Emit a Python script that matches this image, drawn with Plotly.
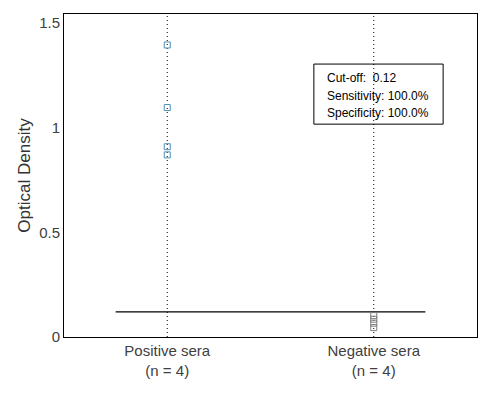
import plotly.graph_objects as go

categories = ["Positive sera<br>(n = 4)", "Negative sera<br>(n = 4)"]
cat_pos = [1, 2]
positive_values = [1.395, 1.096, 0.909, 0.87]
negative_values = [0.102, 0.085, 0.066, 0.045]
cutoff = 0.12
summary_lines = ["Cut-off:  0.12", "Sensitivity: 100.0%", "Specificity: 100.0%"]
y_ticks = [0, 0.5, 1, 1.5]
y_tick_text = ["0", "0.5", "1", "1.5"]

fig = go.Figure()

# vertical dotted guide lines at each category
for p in cat_pos:
    fig.add_trace(go.Scatter(x=[p, p], y=[0, 1.543], mode="lines",
                             line=dict(color="black", width=1, dash="1px,3px"),
                             showlegend=False, hoverinfo="skip"))

# cut-off line
fig.add_trace(go.Scatter(x=[0.75, 2.25], y=[cutoff, cutoff], mode="lines",
                         line=dict(color="black", width=1.2),
                         showlegend=False, hoverinfo="skip"))

fig.add_trace(go.Scatter(x=[cat_pos[0]] * len(positive_values), y=positive_values,
                         mode="markers",
                         marker=dict(symbol="square-open", size=6,
                                     color="#4f8fb5", line=dict(width=1)),
                         showlegend=False))
fig.add_trace(go.Scatter(x=[cat_pos[1]] * len(negative_values), y=negative_values,
                         mode="markers",
                         marker=dict(symbol="square-open", size=6,
                                     color="#808080", line=dict(width=1)),
                         showlegend=False))

# summary box
fig.add_shape(type="rect", xref="paper", yref="paper",
              x0=0.605, x1=0.918, y0=0.659, y1=0.845,
              line=dict(color="black", width=1), fillcolor="rgba(0,0,0,0)")
line_y = [0.802, 0.746, 0.692]
for txt, yy in zip(summary_lines, line_y):
    fig.add_annotation(xref="paper", yref="paper", x=0.632, y=yy,
                       xanchor="left", yanchor="middle", showarrow=False,
                       text=txt, align="left",
                       font=dict(family="Liberation Sans, Arial", size=12, color="black"))

fig.update_layout(
    width=493, height=389,
    margin=dict(l=56, r=24, t=6, b=60),
    plot_bgcolor="white", paper_bgcolor="white",
    font=dict(family="Liberation Sans, Arial", size=15, color="#404040"),
    xaxis=dict(range=[0.5, 2.5], tickvals=cat_pos, ticktext=categories,
               showgrid=False, zeroline=False, showline=True, linecolor="black",
               linewidth=1, mirror=True, ticks="",
               tickfont=dict(size=15, color="#404040")),
    yaxis=dict(range=[0, 1.543], tickvals=y_ticks, ticktext=y_tick_text,
               showgrid=False, zeroline=False, showline=True, linecolor="black",
               linewidth=1, mirror=True, ticks="",
               title=dict(text="Optical Density", standoff=4,
                          font=dict(size=17, color="#333333")),
               tickfont=dict(size=15, color="#404040")),
)

fig.write_html("out.html")
